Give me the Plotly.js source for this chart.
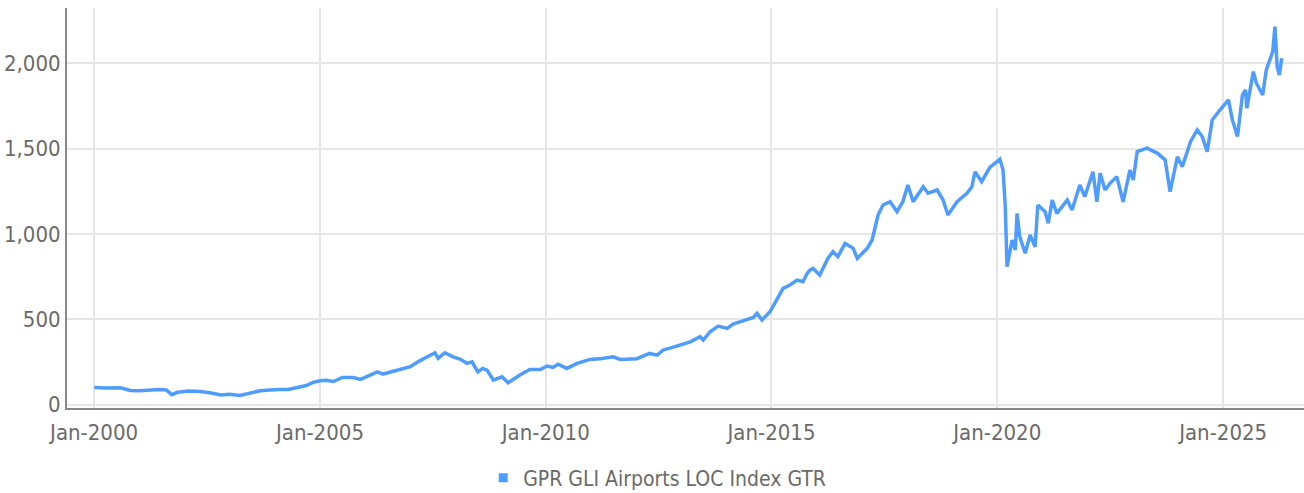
<!DOCTYPE html>
<html>
<head>
<meta charset="utf-8">
<script src="https://cdn.plot.ly/plotly-3.0.1.min.js"></script>
<style>
html,body{margin:0;padding:0;background:#fff;}
#chart{width:1304px;height:493px;}
</style>
</head>
<body>
<div id="chart"></div>
<script>
const seriesName = "GPR GLI Airports LOC Index GTR";
const dates = [
"2000-01-03","2000-04-10","2000-08-01","2000-10-20","2001-01-02","2001-04-10","2001-06-15","2001-08-08","2001-09-20","2001-11-05",
"2002-02-05","2002-05-08","2002-07-26","2002-10-20","2003-01-01","2003-03-25","2003-06-12","2003-09-05","2003-11-25","2004-02-05",
"2004-04-20","2004-07-01","2004-09-12","2004-11-06","2005-01-03","2005-02-20","2005-04-20","2005-07-01","2005-09-27","2005-11-25",
"2006-02-06","2006-04-10","2006-05-26","2006-07-20","2006-11-03","2007-01-02","2007-03-15","2007-06-10","2007-07-20","2007-08-15",
"2007-10-08","2007-12-13","2008-02-06","2008-04-05","2008-05-15","2008-07-01","2008-08-08","2008-09-13","2008-11-03","2009-01-12",
"2009-03-03","2009-06-06","2009-08-25","2009-11-17","2010-01-12","2010-02-28","2010-04-10","2010-06-20","2010-09-12","2010-12-25",
"2011-04-01","2011-07-01","2011-08-25","2012-01-08","2012-04-20","2012-06-20","2012-08-08","2012-11-25","2013-03-15","2013-06-03",
"2013-06-28","2013-08-22","2013-10-27","2014-01-08","2014-02-24","2014-05-15","2014-08-08","2014-09-06","2014-10-16","2014-12-20",
"2015-02-13","2015-04-05","2015-05-30","2015-07-27","2015-09-13","2015-10-16","2015-11-10","2015-12-03","2016-01-26","2016-02-20",
"2016-04-01","2016-05-12","2016-06-21","2016-08-18","2016-10-23","2016-11-25","2017-02-13","2017-03-25","2017-05-12","2017-06-21",
"2017-08-18","2017-10-12","2017-11-28","2018-01-08","2018-02-20","2018-05-12","2018-06-21","2018-09-02","2018-10-20","2018-11-28",
"2019-02-10","2019-05-01","2019-06-10","2019-07-05","2019-08-28","2019-11-02","2019-12-12","2020-01-22","2020-02-17","2020-03-06",
"2020-03-20","2020-04-30","2020-05-26","2020-06-09","2020-07-01","2020-08-14","2020-09-23","2020-11-02","2020-11-24","2021-01-22",
"2021-02-17","2021-03-20","2021-04-27","2021-07-20","2021-08-28","2021-10-30","2021-12-09","2022-02-13","2022-03-17","2022-04-12",
"2022-05-22","2022-07-01","2022-08-25","2022-10-15","2022-12-09","2023-01-05","2023-02-06","2023-04-27","2023-07-20","2023-09-20",
"2023-10-30","2023-12-28","2024-02-06","2024-04-12","2024-06-05","2024-07-16","2024-08-25","2024-10-05","2024-12-06","2025-02-13",
"2025-03-17","2025-04-27","2025-06-06","2025-07-01","2025-07-12","2025-09-02","2025-09-27","2025-11-17","2025-12-16","2026-02-06",
"2026-02-24","2026-03-14","2026-04-01","2026-04-20"
];
const values = [
100,97,99,83,81,86,89,86,58,72,
79,76,69,56,60,54,68,81,85,89,
88,99,112,130,140,142,135,159,159,148,
173,192,179,190,206,222,255,290,304,271,
304,280,267,242,251,192,212,202,144,163,
128,173,206,206,226,218,237,212,242,265,
270,280,265,269,300,290,320,343,368,398,
378,427,460,447,472,491,511,535,496,544,
613,681,701,730,720,769,790,799,760,799,
857,896,867,945,916,857,916,965,1111,1170,
1189,1131,1189,1287,1189,1277,1239,1258,1199,1111,
1189,1239,1277,1365,1307,1390,1414,1438,1375,1160,
808,965,906,1121,984,887,994,925,1170,1131,
1063,1199,1121,1199,1141,1287,1219,1365,1189,1356,
1258,1297,1336,1189,1375,1317,1483,1503,1473,1434,
1248,1453,1395,1541,1610,1571,1483,1669,1727,1786,
1669,1571,1815,1845,1737,1952,1884,1815,1962,2069,
2216,1981,1932,2030
];
const yTicks = [0, 500, 1000, 1500, 2000];
const lineColor = "#4f9cff";
const fontFam = "'Liberation Sans Narrow', 'DejaVu Sans Condensed', 'Roboto', sans-serif";

const traces = [
  {x: dates, y: values, type: "scatter", mode: "lines", name: seriesName,
   line: {color: lineColor, width: 3.5}, showlegend: false, hoverinfo: "skip"},
  {x: [null], y: [null], type: "scatter", mode: "markers", name: seriesName,
   marker: {color: lineColor, symbol: "square", size: 9}, showlegend: true, hoverinfo: "skip"}
];

const layout = {
  width: 1304, height: 493,
  margin: {l: 67, r: 0, t: 8, b: 85},
  paper_bgcolor: "#fff", plot_bgcolor: "#fff",
  font: {family: fontFam, color: "#6a6a6a", size: 22},
  separators: ".,",
  xaxis: {
    type: "date",
    range: ["1999-05-27", "2026-10-17"],
    tick0: "2000-01-01", dtick: "M60", tickformat: "%b-%Y",
    showgrid: true, gridcolor: "#e6e6e6", gridwidth: 2,
    showline: true, linecolor: "#888", linewidth: 2,
    ticks: "", ticklabelstandoff: 4,
    tickfont: {family: fontFam, size: 22, color: "#6a6a6a"},
    zeroline: false, fixedrange: true
  },
  yaxis: {
    range: [-20, 2325],
    tickvals: yTicks, tickformat: ",d",
    showgrid: true, gridcolor: "#e6e6e6", gridwidth: 2,
    showline: true, linecolor: "#888", linewidth: 2,
    ticks: "", tickfont: {family: fontFam, size: 22, color: "#6a6a6a"},
    zeroline: false, fixedrange: true
  },
  showlegend: true,
  legend: {
    orientation: "h", xref: "container", x: 0.504, xanchor: "center",
    yref: "container", y: 0.03, yanchor: "middle",
    font: {family: fontFam, size: 21, color: "#6a6a6a"},
    bgcolor: "rgba(0,0,0,0)"
  },
  hovermode: false
};

Plotly.newPlot("chart", traces, layout, {staticPlot: true, displayModeBar: false});
</script>
</body>
</html>
